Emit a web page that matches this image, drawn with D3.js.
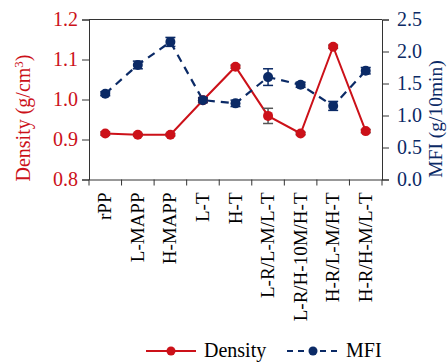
<!DOCTYPE html>
<html><head><meta charset="utf-8">
<script src="https://cdn.jsdelivr.net/npm/d3@7"></script>
<style>body{margin:0;background:#fff}svg{display:block}text{font-family:"Liberation Serif","Times New Roman",serif}</style>
</head><body><svg id="c" width="448" height="363"></svg>
<script>
const categories = ["rPP","L-MAPP","H-MAPP","L-T","H-T","L-R/L-M/L-T","L-R/H-10M/H-T","H-R/L-M/H-T","H-R/H-M/L-T"];
const density = [0.915,0.912,0.912,0.998,1.082,0.959,0.915,1.132,0.921];
const densityErr = [0.004,0.003,0.003,0.004,0.004,0.019,0.003,0.004,0.004];
const mfi = [1.34,1.79,2.15,1.24,1.19,1.60,1.48,1.15,1.70];
const mfiErr = [0.03,0.06,0.07,0.04,0.05,0.13,0.04,0.07,0.05];
const densityTicks = [0.8,0.9,1.0,1.1,1.2];
const mfiTicks = [0.0,0.5,1.0,1.5,2.0,2.5];

const RED = "#cc1119", NAVY = "#0b2a66";
const svg = d3.select("#c");
const L = 89, R = 382, T = 19.5, B = 179.5;
const x = d3.scaleBand().domain(categories).range([L, R]);
const yD = d3.scaleLinear().domain([0.8,1.2]).range([B, T]);
const yM = d3.scaleLinear().domain([0,2.5]).range([B, T]);

svg.append("line").attr("x1",L).attr("x2",R).attr("y1",T).attr("y2",T).attr("stroke","#333").attr("stroke-width",1);

const gl = svg.append("g").attr("transform",`translate(${L},0)`)
  .call(d3.axisLeft(yD).tickValues(densityTicks).tickFormat(d3.format(".1f")).tickSize(7).tickPadding(4));
gl.selectAll("text").attr("fill",RED).style("font-size","20px");
gl.selectAll("line,path").attr("stroke","#333");

const gr = svg.append("g").attr("transform",`translate(${R},0)`)
  .call(d3.axisRight(yM).tickValues(mfiTicks).tickFormat(d3.format(".1f")).tickSize(7).tickPadding(8));
gr.selectAll("text").attr("fill",NAVY).style("font-size","20px");
gr.selectAll("line,path").attr("stroke","#333");

const gb = svg.append("g").attr("transform",`translate(0,${B})`)
  .call(d3.axisBottom(x).tickSize(0).tickFormat(""));
gb.select("path").attr("stroke","#333");
const bounds = d3.range(categories.length+1).map(i => L + i*x.step());
gb.selectAll(".bt").data(bounds).enter().append("line").attr("x1",d=>d).attr("x2",d=>d).attr("y1",0).attr("y2",6).attr("stroke","#333");
gb.selectAll(".lab").data(categories).enter().append("text")
  .attr("transform",d=>`translate(${x(d)+x.bandwidth()/2+6},13) rotate(-90)`)
  .attr("text-anchor","end").attr("fill","#000").style("font-size","19px").text(d=>d);

svg.append("text").attr("transform","translate(30,118) rotate(-90)").attr("text-anchor","middle").attr("fill",RED).style("font-size","20px")
  .html('Density (g/cm<tspan baseline-shift="super" font-size="13px">3</tspan>)');
svg.append("text").attr("transform","translate(442,119) rotate(-90)").attr("text-anchor","middle").attr("fill",NAVY).style("font-size","19.5px")
  .text("MFI (g/10min)");

const cx = d => x(d)+x.bandwidth()/2;
svg.append("path").datum(categories).attr("fill","none").attr("stroke",RED).attr("stroke-width",2)
  .attr("d",d3.line().x(d=>cx(d)).y((d,i)=>yD(density[i])));
svg.append("path").datum(categories).attr("fill","none").attr("stroke",NAVY).attr("stroke-width",2.2).attr("stroke-dasharray","8,6")
  .attr("d",d3.line().x(d=>cx(d)).y((d,i)=>yM(mfi[i])));

function errs(vals, errsArr, y, col){
  const g = svg.append("g");
  categories.forEach((c,i)=>{
    const x0 = cx(c), y1 = y(vals[i]-errsArr[i]), y2 = y(vals[i]+errsArr[i]);
    g.append("line").attr("x1",x0).attr("x2",x0).attr("y1",y1).attr("y2",y2).attr("stroke",col).attr("stroke-width",1.5);
    [y1,y2].forEach(yy=>g.append("line").attr("x1",x0-5).attr("x2",x0+5).attr("y1",yy).attr("y2",yy).attr("stroke",col).attr("stroke-width",1.5));
  });
}
errs(density, densityErr, yD, "#555");
errs(mfi, mfiErr, yM, NAVY);

svg.append("g").selectAll("circle").data(categories).enter().append("circle")
  .attr("cx",cx).attr("cy",(d,i)=>yD(density[i])).attr("r",5).attr("fill",RED);
svg.append("g").selectAll("circle").data(categories).enter().append("circle")
  .attr("cx",cx).attr("cy",(d,i)=>yM(mfi[i])).attr("r",5).attr("fill",NAVY);

const ly = 351;
svg.append("line").attr("x1",146).attr("x2",196).attr("y1",ly).attr("y2",ly).attr("stroke",RED).attr("stroke-width",2);
svg.append("circle").attr("cx",171).attr("cy",ly).attr("r",4.5).attr("fill",RED);
svg.append("text").attr("x",204).attr("y",ly+6).style("font-size","20px").attr("fill","#000").text("Density");
svg.append("line").attr("x1",287).attr("x2",338).attr("y1",ly).attr("y2",ly).attr("stroke",NAVY).attr("stroke-width",2).attr("stroke-dasharray","6,5");
svg.append("circle").attr("cx",313).attr("cy",ly).attr("r",4.5).attr("fill",NAVY);
svg.append("text").attr("x",346).attr("y",ly+6).style("font-size","20px").attr("fill","#000").text("MFI");
</script></body></html>
